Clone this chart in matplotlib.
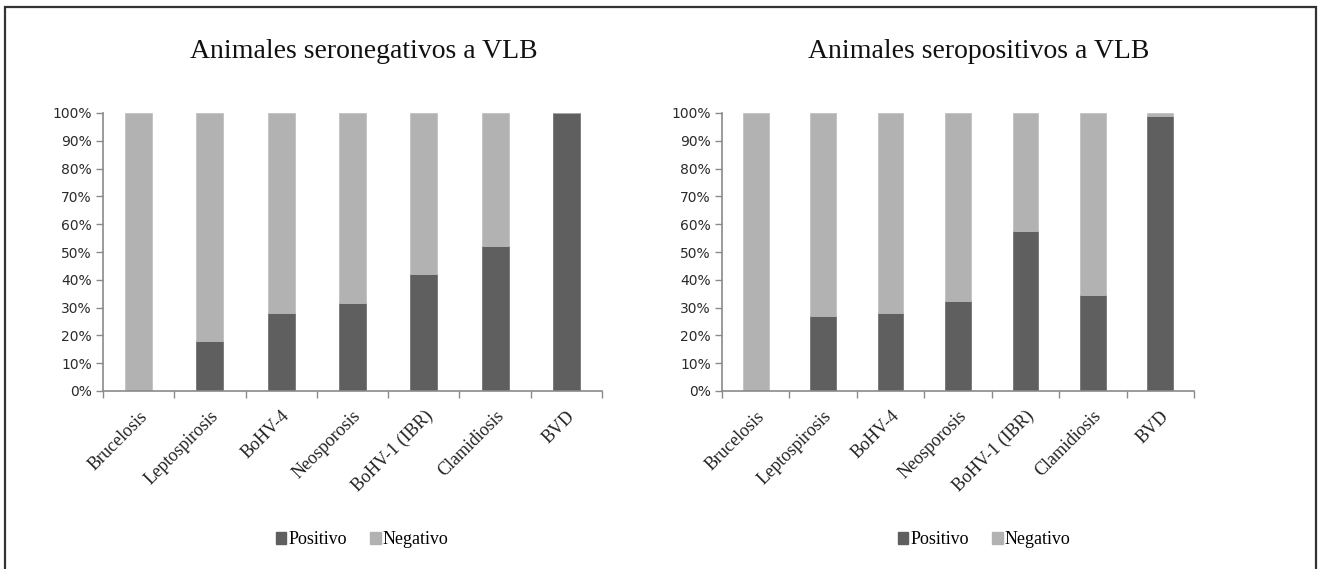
import numpy as np
import matplotlib
matplotlib.use("Agg")
import matplotlib.pyplot as plt
from matplotlib.patches import Rectangle, Patch

# categories and values (percent)
categories = ["Brucelosis", "Leptospirosis", "BoHV-4", "Neosporosis",
              "BoHV-1 (IBR)", "Clamidiosis", "BVD"]
pos_seroneg = [0, 18, 28, 31.5, 42, 52, 100]
pos_seropos = [0, 27, 28, 32.5, 57.4, 34.4, 99]
titles = ["Animales seronegativos a VLB", "Animales seropositivos a VLB"]
legend_labels = ["Positivo", "Negativo"]

c_pos = "#5f5f5f"
c_neg = "#b2b2b2"
axis_col = "#8a8a8a"

W, H = 1321, 569
fig = plt.figure(figsize=(W / 100, H / 100), dpi=100)

# axes boxes in pixels: left, top, right, bottom
boxes = [(103, 113, 602, 391), (722, 113, 1194, 391)]
title_x = [364, 979]
legend_x = [362, 984]


def draw_panel(box, pos, title, tx, lx):
    l, t, r, b = box
    ax = fig.add_axes([l / W, 1 - b / H, (r - l) / W, (b - t) / H])
    x = np.arange(len(categories))
    neg = [100 - p for p in pos]
    ax.bar(x, pos, width=0.38, color=c_pos, edgecolor="#6a6a6a", linewidth=0.5)
    ax.bar(x, neg, bottom=pos, width=0.38, color=c_neg, edgecolor="#bcbcbc", linewidth=0.5)
    ax.set_xlim(-0.5, len(categories) - 0.5)
    ax.set_ylim(0, 100)

    ax.set_yticks(np.arange(0, 101, 10))
    ax.set_yticklabels([f"{v}%" for v in range(0, 101, 10)],
                       fontfamily="DejaVu Sans", fontsize=10, color="#2a2a2a")
    ax.set_xticks(np.arange(-0.5, len(categories), 1.0))
    ax.set_xticklabels([])
    ax.tick_params(axis="both", direction="out", length=5, color=axis_col, width=1)
    ax.tick_params(axis="y", pad=3)

    for s in ["top", "right"]:
        ax.spines[s].set_visible(False)
    for s in ["left", "bottom"]:
        ax.spines[s].set_color(axis_col)
        ax.spines[s].set_linewidth(1.2)

    # rotated category labels
    for xi, name in zip(x, categories):
        ax.annotate(name, xy=(xi, 0), xycoords=("data", "axes fraction"),
                    xytext=(0, -12), textcoords="offset points",
                    rotation=45, ha="right", va="top", rotation_mode="anchor",
                    fontfamily="Liberation Serif", fontsize=13, color="#222222")

    fig.text(tx / W, 1 - 52 / H, title, ha="center", va="center",
             fontfamily="Liberation Serif", fontsize=20, color="#111111")

    handles = [Patch(facecolor=c_pos, edgecolor=c_pos),
               Patch(facecolor=c_neg, edgecolor=c_neg)]
    fig.legend(handles, legend_labels, loc="center", ncol=2,
               bbox_to_anchor=(lx / W, 1 - 540 / H), frameon=False,
               handlelength=0.6, handleheight=0.6, handletextpad=0.1,
               columnspacing=1.3,
               prop={"family": "Liberation Serif", "size": 13})
    return ax


for box, pos, title, tx, lx in zip(boxes, [pos_seroneg, pos_seropos], titles, title_x, legend_x):
    draw_panel(box, pos, title, tx, lx)

# outer frame
fig.patches.append(Rectangle((5 / W, -0.05), (1316 - 5) / W, 1.05 - 7 / H,
                             transform=fig.transFigure, fill=False,
                             edgecolor="#333333", linewidth=1.6))

fig.savefig("out.png", dpi=100, facecolor="white")
